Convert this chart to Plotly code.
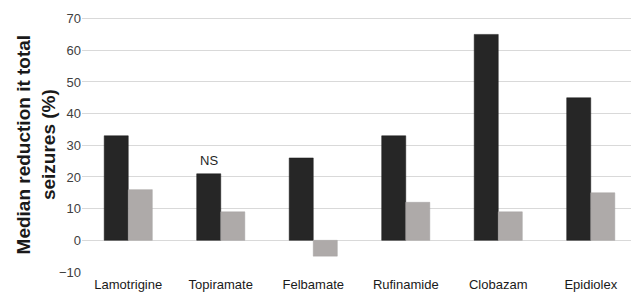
import plotly.graph_objects as go

categories = ["Lamotrigine", "Topiramate", "Felbamate", "Rufinamide", "Clobazam", "Epidiolex"]
drug_values = [33, 21, 26, 33, 65, 45]
placebo_values = [16, 9, -5, 12, 9, 15]
y_ticks = [-10, 0, 10, 20, 30, 40, 50, 60, 70]

fig = go.Figure()
fig.add_trace(go.Bar(x=categories, y=drug_values, marker=dict(color="#262626", line=dict(color="#1a1a1a", width=0.5)), showlegend=False))
fig.add_trace(go.Bar(x=categories, y=placebo_values, marker=dict(color="#aeaaa9", line=dict(color="#a5a1a0", width=0.5)), showlegend=False))

fig.add_annotation(x=categories[1], y=drug_values[1], text="NS", showarrow=False,
                   yanchor="bottom", xshift=-12, yshift=4,
                   font=dict(family="Liberation Sans, Arial", size=13, color="#262626"))

fig.add_annotation(xref="paper", yref="paper", x=-0.083, y=0.5, xanchor="center", yanchor="middle",
                   text="<b>Median reduction it total</b><br><b>seizures (%)</b>", textangle=-90,
                   showarrow=False,
                   font=dict(family="Liberation Sans, Arial", size=19, color="#1a1a1a"))

fig.update_layout(
    width=631, height=287,
    margin=dict(l=74, r=2, t=9, b=23),
    barmode="group", bargap=0.48, bargroupgap=0,
    plot_bgcolor="white", paper_bgcolor="white",
    font=dict(family="Liberation Sans, Arial", size=13, color="#262626"),
    xaxis=dict(showgrid=False, showline=False, ticks="", tickfont=dict(size=13, color="#1a1a1a"),
               ticklabelstandoff=3, automargin=False),
    yaxis=dict(range=[-10, 70.5], tickvals=y_ticks, ticktext=["−10"] + [str(v) for v in y_ticks[1:]],
               showgrid=True, gridcolor="#d9d9d9", gridwidth=1,
               zeroline=True, zerolinecolor="#d9d9d9", zerolinewidth=1,
               showline=False, ticks="", tickfont=dict(size=13, color="#404040"), automargin=False),
)

fig.write_html("out.html")
